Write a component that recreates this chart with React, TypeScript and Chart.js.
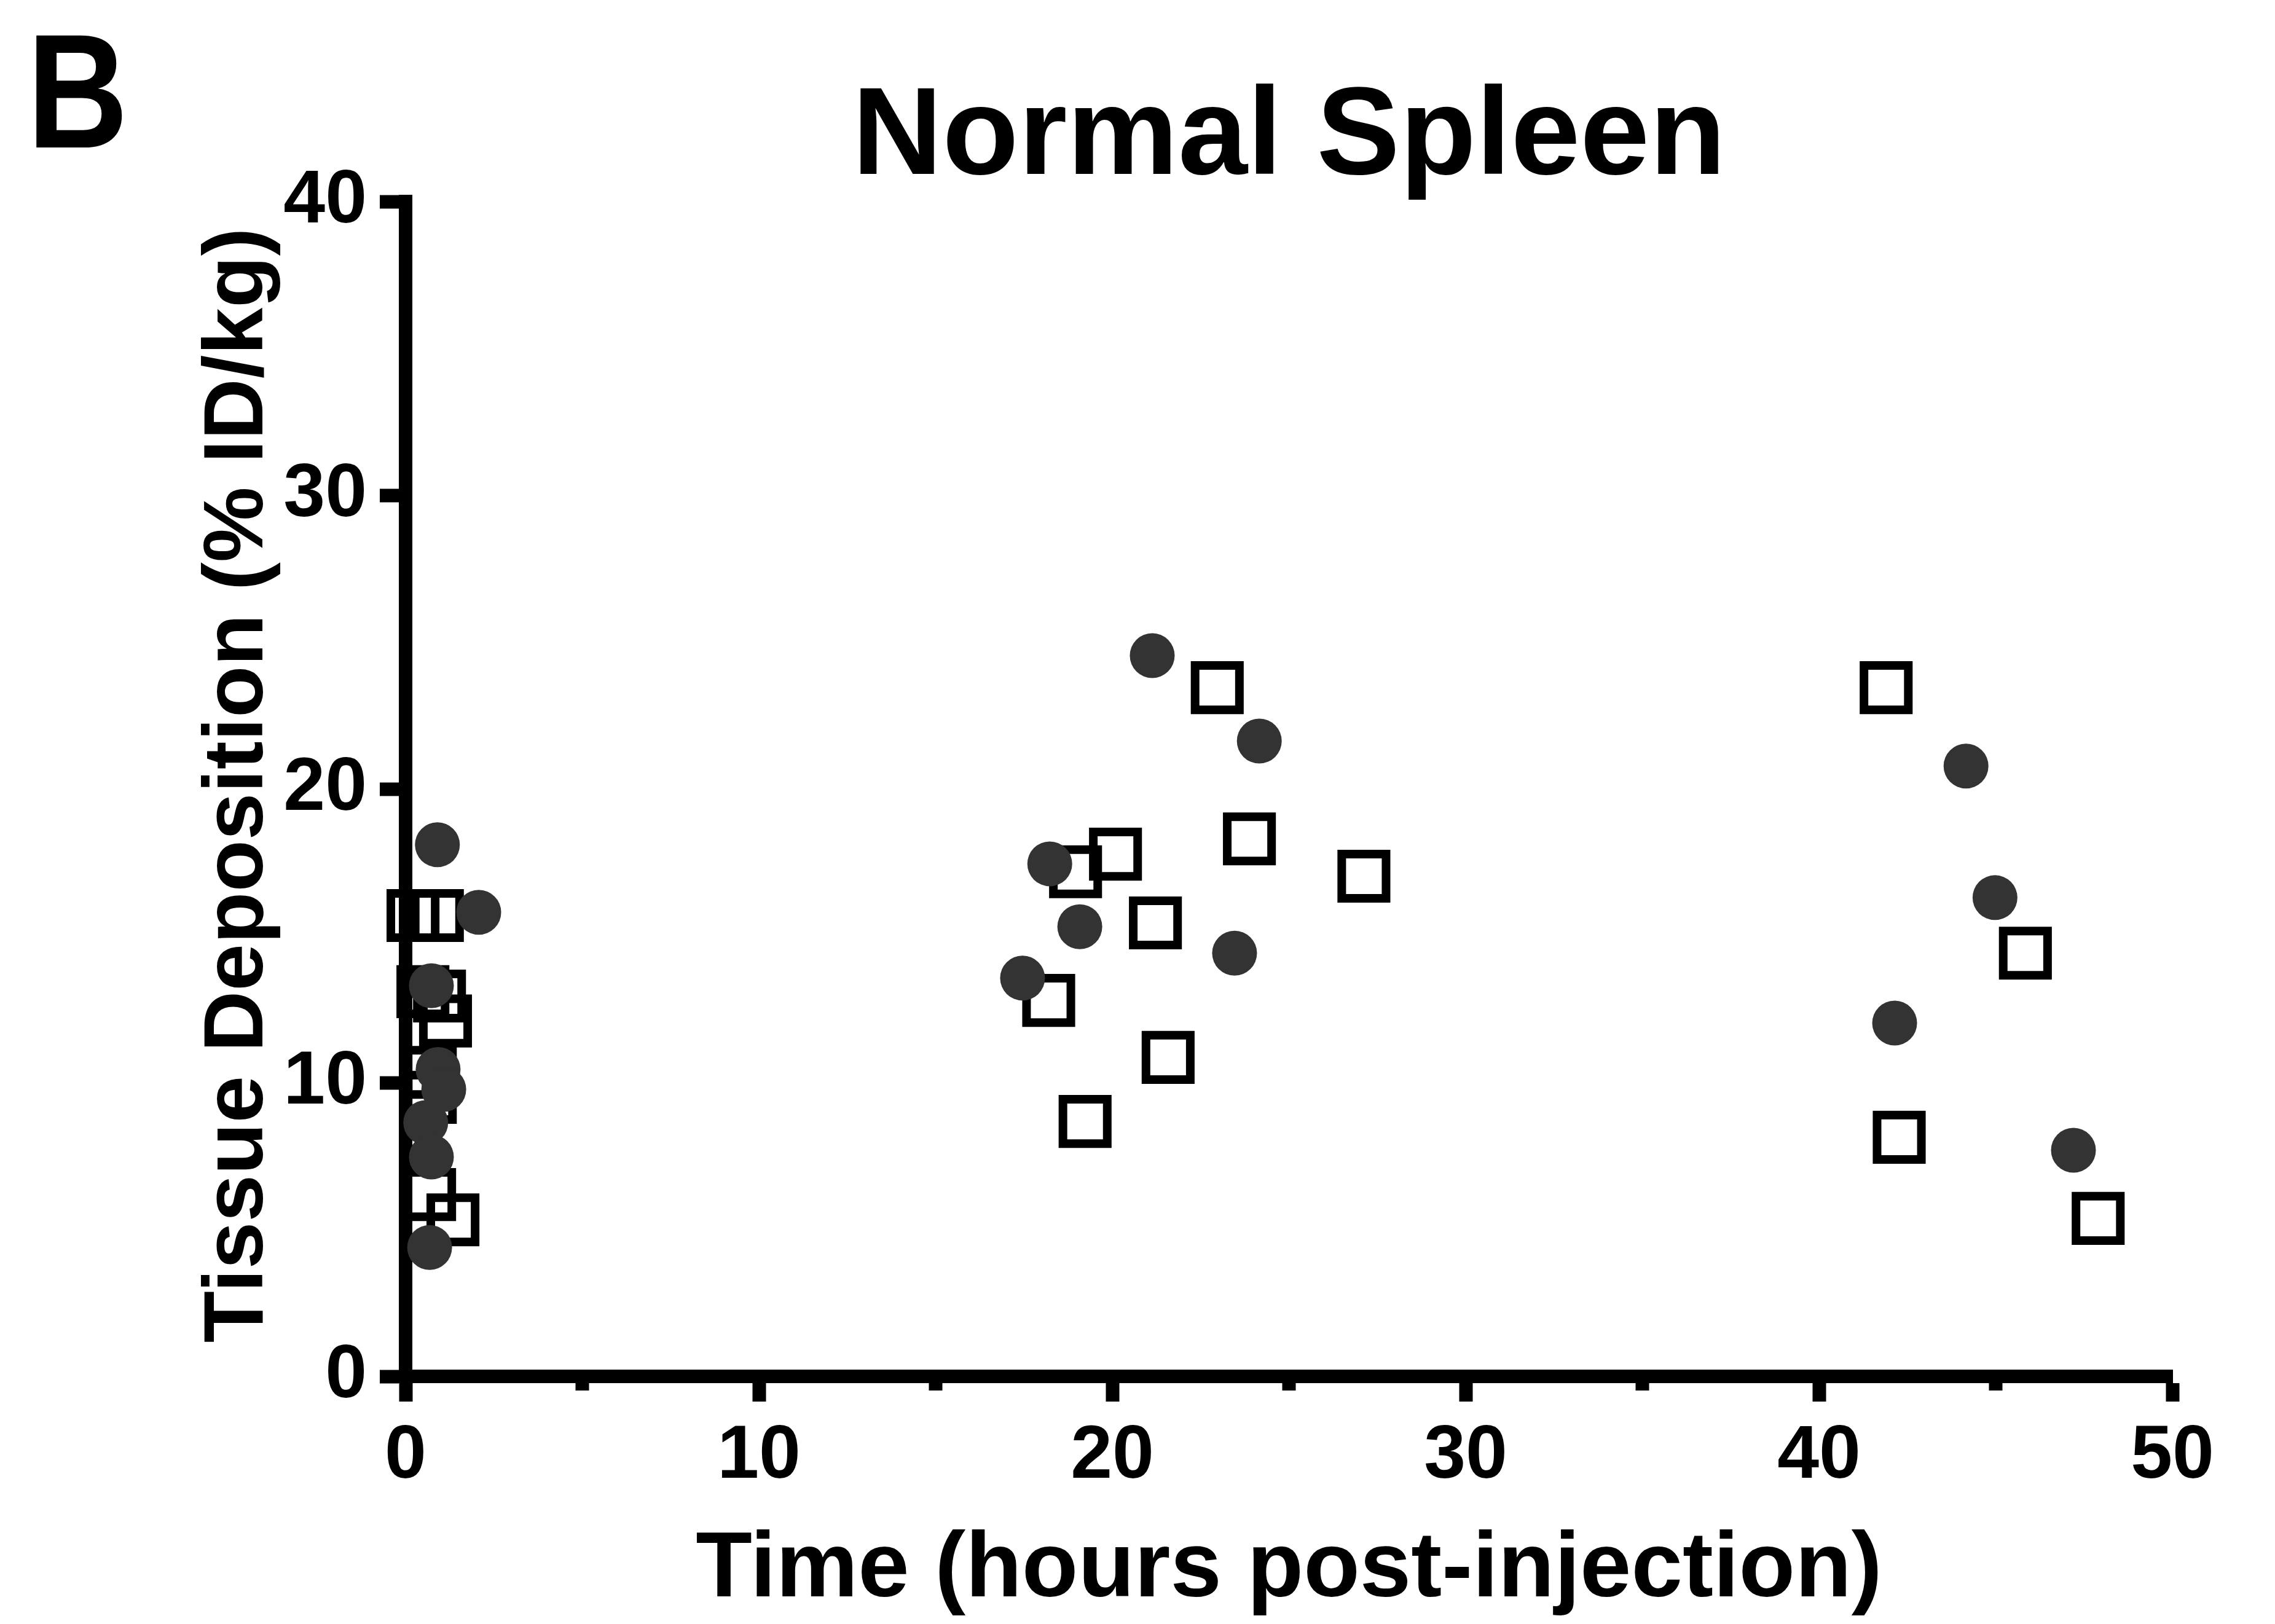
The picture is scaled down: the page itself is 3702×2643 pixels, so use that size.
import React, { useEffect, useRef } from 'react';
import { Chart, registerables } from 'chart.js';

Chart.register(...registerables);

const W = 3702;
const H = 2643;

const PANEL_LABEL = 'B';
const CHART_TITLE = 'Normal Spleen';
const X_TITLE = 'Time (hours post-injection)';
const Y_TITLE = 'Tissue Deposition (% ID/kg)';

const X_MIN = 0;
const X_MAX = 50;
const X_STEP = 5;
const X_LABEL_STEP = 10;
const Y_MIN = 0;
const Y_MAX = 40;
const Y_STEP = 10;

// Filled circles
const circleX = [0.9, 2.07, 0.73, 0.92, 1.08, 0.57, 0.73, 0.68, 21.13, 24.16, 18.23, 19.08, 17.46, 23.46, 44.16, 44.98, 42.14, 47.2];
const circleY = [18.1, 15.8, 13.3, 10.45, 9.77, 8.64, 7.47, 4.39, 24.54, 21.63, 17.45, 15.31, 13.56, 14.41, 20.78, 16.3, 12.03, 7.7];

// Open squares
const squareX = [0.21, 0.9, 0.49, 0.96, 1.13, 0.7, 0.7, 0.68, 1.34, 22.97, 20.09, 18.96, 23.88, 27.12, 21.22, 18.2, 21.58, 19.23, 41.9, 45.84, 42.27, 47.9];
const squareY = [15.69, 15.69, 13.1, 12.95, 12.1, 10.35, 9.5, 6.19, 5.33, 23.45, 17.78, 17.18, 18.3, 17.03, 15.44, 12.8, 10.86, 8.68, 23.45, 14.41, 8.14, 5.38];

const FONT = '"Liberation Sans", Arial, Helvetica, sans-serif';

export default function App() {
  const ref = useRef<HTMLCanvasElement | null>(null);

  useEffect(() => {
    if (!ref.current) return;

    const textPlugin = {
      id: 'figureTexts',
      afterDraw(chart: any) {
        const { ctx, chartArea } = chart;
        ctx.save();
        ctx.fillStyle = '#000';
        ctx.textBaseline = 'alphabetic';

        ctx.save();
        ctx.translate(44, 240);
        ctx.scale(0.86, 1);
        ctx.font = `bold 265px ${FONT}`;
        ctx.textAlign = 'left';
        ctx.fillText(PANEL_LABEL, 0, 0);
        ctx.restore();

        const cx = (chartArea.left + chartArea.right) / 2;
        ctx.font = `bold 203px ${FONT}`;
        ctx.textAlign = 'center';
        ctx.fillText(CHART_TITLE, cx, 283);

        ctx.font = `bold 150px ${FONT}`;
        ctx.fillText(X_TITLE, cx, 2598);

        const cy = (chartArea.top + chartArea.bottom) / 2 - 6;
        ctx.translate(427, cy);
        ctx.rotate(-Math.PI / 2);
        ctx.font = `bold 138px ${FONT}`;
        ctx.textAlign = 'center';
        ctx.fillText(Y_TITLE, 0, 0);
        ctx.restore();
      },
    };

    const chart = new Chart(ref.current, {
      type: 'scatter',
      data: {
        datasets: [
          {
            label: 'circles',
            data: circleX.map((x, i) => ({ x, y: circleY[i] })),
            pointStyle: 'circle',
            pointRadius: 36.5,
            pointHoverRadius: 36.5,
            backgroundColor: '#333333',
            borderColor: '#333333',
            borderWidth: 0,
            clip: false,
            order: 0,
          } as any,
          {
            label: 'squares',
            data: squareX.map((x, i) => ({ x, y: squareY[i] })),
            pointStyle: 'rect',
            pointRadius: 51,
            pointHoverRadius: 51,
            backgroundColor: 'rgba(0,0,0,0)',
            borderColor: '#000000',
            borderWidth: 14,
            clip: false,
            order: 1,
          } as any,
        ],
      },
      options: {
        responsive: false,
        animation: false,
        devicePixelRatio: 1,
        events: [],
        layout: { padding: { left: 0, right: 167, top: 328, bottom: 0 } },
        plugins: {
          legend: { display: false },
          tooltip: { enabled: false },
          title: { display: false },
        },
        scales: {
          x: {
            type: 'linear',
            min: X_MIN,
            max: X_MAX,
            afterFit: (s: any) => {
              s.height = 403;
            },
            ticks: {
              stepSize: X_STEP,
              autoSkip: false,
              maxRotation: 0,
              minRotation: 0,
              padding: 17,
              color: '#000',
              font: { family: FONT, size: 122, weight: 'bold' },
              callback: (v: any) => (Number(v) % X_LABEL_STEP === 0 ? String(v) : ''),
            },
            grid: {
              drawOnChartArea: false,
              drawTicks: true,
              tickLength: 41,
              tickWidth: 22,
              tickColor: '#000',
              tickBorderDash: (c: any) =>
                c.tick && Number(c.tick.value) % X_LABEL_STEP !== 0 ? [12, 400] : [],
            },
            border: { display: true, color: '#000', width: 22 },
          },
          y: {
            type: 'linear',
            min: Y_MIN,
            max: Y_MAX,
            afterFit: (s: any) => {
              s.width = 660;
            },
            ticks: {
              stepSize: Y_STEP,
              padding: 21,
              color: '#000',
              font: { family: FONT, size: 122, weight: 'bold' },
            },
            grid: {
              drawOnChartArea: false,
              drawTicks: true,
              tickLength: 42,
              tickWidth: 22,
              tickColor: '#000',
            },
            border: { display: true, color: '#000', width: 22 },
          },
        },
      } as any,
      plugins: [textPlugin],
    });

    return () => chart.destroy();
  }, []);

  return (
    <div style={{ position: 'fixed', left: 0, top: 0, width: W, height: H, background: '#ffffff' }}>
      <canvas ref={ref} width={W} height={H} style={{ width: W, height: H, display: 'block' }} />
    </div>
  );
}
